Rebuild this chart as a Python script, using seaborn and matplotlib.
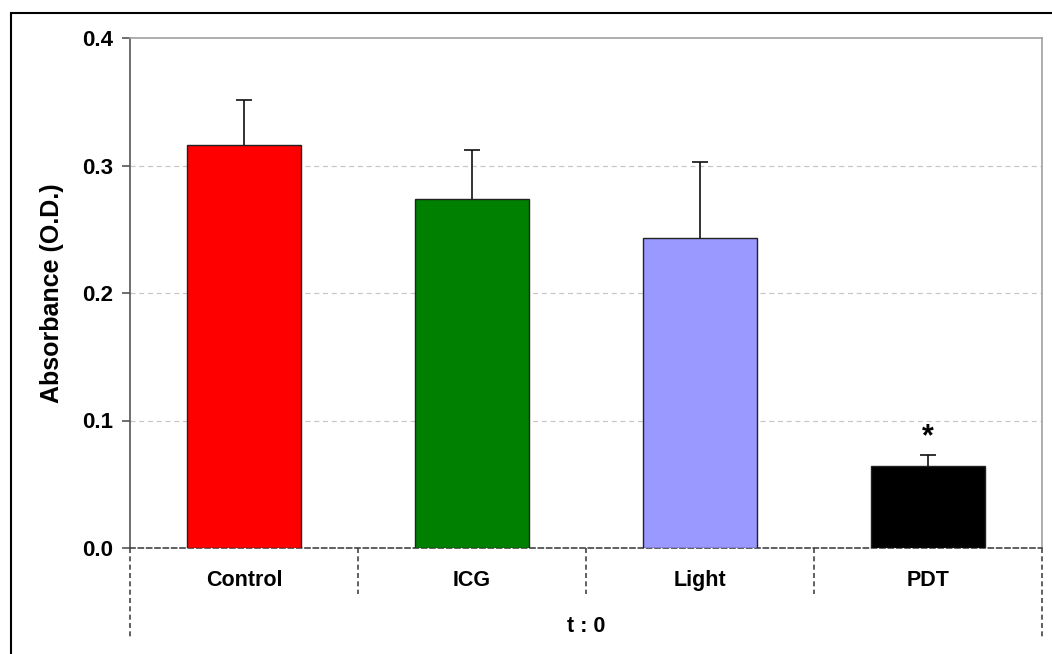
import matplotlib
matplotlib.use("Agg")
import matplotlib.pyplot as plt
import seaborn as sns
import numpy as np
from matplotlib.patches import Rectangle
from matplotlib.ticker import FormatStrFormatter

categories = ["Control", "ICG", "Light", "PDT"]
means = [0.316, 0.274, 0.243, 0.064]
errs = [0.035, 0.038, 0.060, 0.009]
colors = ["#FF0000", "#008000", "#9999FF", "#000000"]
group_label = "t : 0"
y_ticks = [0.0, 0.1, 0.2, 0.3, 0.4]

sns.set_style("white")
plt.rcParams["font.family"] = ["Liberation Sans", "DejaVu Sans"]
plt.rcParams["text.color"] = "black"
plt.rcParams["axes.labelcolor"] = "black"
plt.rcParams["xtick.color"] = "black"
plt.rcParams["ytick.color"] = "black"

fig = plt.figure(figsize=(10.52, 6.54), dpi=100)
ax = fig.add_axes([130 / 1052, 1 - 548 / 654, (1042 - 130) / 1052, (548 - 38) / 654])

sns.barplot(x=categories, y=means, hue=categories, palette=colors, legend=False,
            saturation=1, width=0.5, edgecolor="#222222", linewidth=1.0, ax=ax, zorder=3)
eb = ax.errorbar(x=np.arange(len(categories)), y=means,
                 yerr=[np.zeros(len(errs)), errs], fmt="none", ecolor="#111111",
                 elinewidth=1.2, capsize=6, capthick=1.2, zorder=4)
eb[1][0].set_visible(False)

ax.set_xlim(-0.5, len(categories) - 0.5)
ax.set_ylim(0, 0.4)
ax.set_yticks(y_ticks)
ax.yaxis.set_major_formatter(FormatStrFormatter("%.1f"))
for y in y_ticks[1:-1]:
    ax.axhline(y, color="#C8C8C8", lw=0.9, ls=(0, (4, 3)), zorder=1)

for s in ["top", "right"]:
    ax.spines[s].set_color("#A0A0A0")
    ax.spines[s].set_linewidth(1.2)
ax.spines["left"].set_color("#555555")
ax.spines["left"].set_linewidth(1.2)
ax.spines["bottom"].set_color("#444444")
ax.spines["bottom"].set_linewidth(1.2)
ax.spines["bottom"].set_linestyle((0, (3, 2)))

ax.tick_params(axis="y", direction="out", length=6, width=1.2, color="#555555",
               labelcolor="black", labelsize=16, pad=6, left=True)
for lab in ax.get_yticklabels():
    lab.set_fontweight("bold")
ax.tick_params(axis="x", length=0, labelsize=15.5, pad=16, labelcolor="black")
for lab in ax.get_xticklabels():
    lab.set_fontweight("bold")
ax.set_xlabel(group_label, fontsize=15.5, fontweight="bold", labelpad=18)
ax.set_ylabel("Absorbance (O.D.)", fontsize=18, fontweight="bold", labelpad=13)

tr = ax.get_xaxis_transform()
n = len(categories)
for i, xb in enumerate(np.arange(-0.5, n, 1.0)):
    ybot = -0.175 if i in (0, n) else -0.09
    ax.plot([xb, xb], [0, ybot], transform=tr, clip_on=False, color="#444444",
            lw=1.2, ls=(0, (3, 2)))

ax.text(3, means[3] + errs[3] + 0.002, "*", ha="center", va="bottom",
        fontsize=22, fontweight="bold")

fig.patches.append(Rectangle((11 / 1052, -0.1), 2, 1 - 13 / 654 + 0.1, fill=False,
                             edgecolor="black", lw=1.5, transform=fig.transFigure))

fig.savefig("out.png", dpi=100)
